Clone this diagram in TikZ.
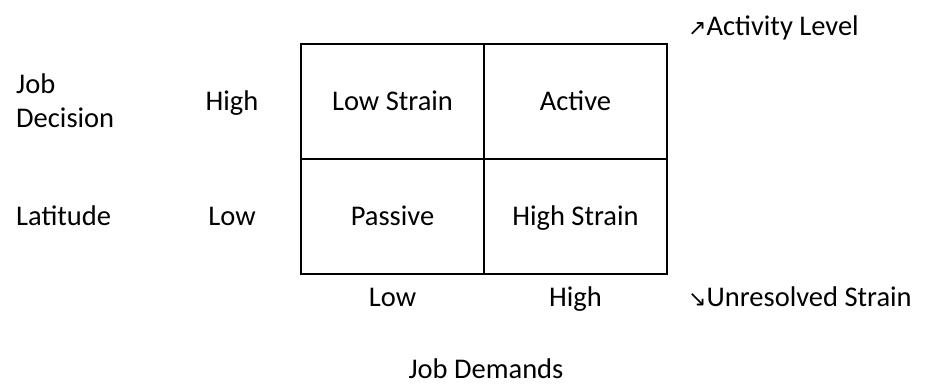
\documentclass[tikz,border=0pt]{standalone}
\usepackage{fontspec}
\setmainfont{Carlito}
\newfontfamily\arrowfont{DejaVu Sans}
\usetikzlibrary{positioning}

\begin{document}
\begin{tikzpicture}[x=1pt,y=-1pt,
    cell/.style={draw, line width=2pt, minimum width=183pt, minimum height=115pt, inner sep=0pt, text height=19pt, text depth=0pt, font=\fontsize{28.5}{34}\selectfont},
    lbl/.style={inner sep=0pt, text height=19pt, text depth=0pt, font=\fontsize{28.5}{34}\selectfont}]
    \useasboundingbox (0,0) rectangle (926,384);
    % Quadrants
    \node[cell] (ls) at (392.5,101) {Low Strain};
    \node[cell, right=-2pt of ls] (act) {Active};
    \node[cell, below=-2pt of ls] (pas) {Passive};
    \node[cell, right=-2pt of pas] (hs) {High Strain};
    % Axis levels
    \node[lbl] (dhigh) at (232,101) {High};
    \node[lbl] (dlow) at (232,216) {Low};
    \node[lbl] (jlow) at (392.5,296.5) {Low};
    \node[lbl] (jhigh) at (575.5,296.5) {High};
    % Axis titles
    \node[lbl, anchor=west] (job) at (16,84) {Job};
    \node[lbl, anchor=west] (dec) at (16,118) {Decision};
    \node[lbl, anchor=west] (lat) at (16,216) {Latitude};
    \node[lbl] (jd) at (486,368.5) {Job Demands};
    % Diagonals
    \node[lbl, anchor=west] (actlvl) at (688,25.5) {{\arrowfont\fontsize{22}{26}\selectfont ↗}Activity Level};
    \node[lbl, anchor=west] (unres) at (688,296.5) {{\arrowfont\fontsize{22}{26}\selectfont ↘}Unresolved Strain};
\end{tikzpicture}
\end{document}
